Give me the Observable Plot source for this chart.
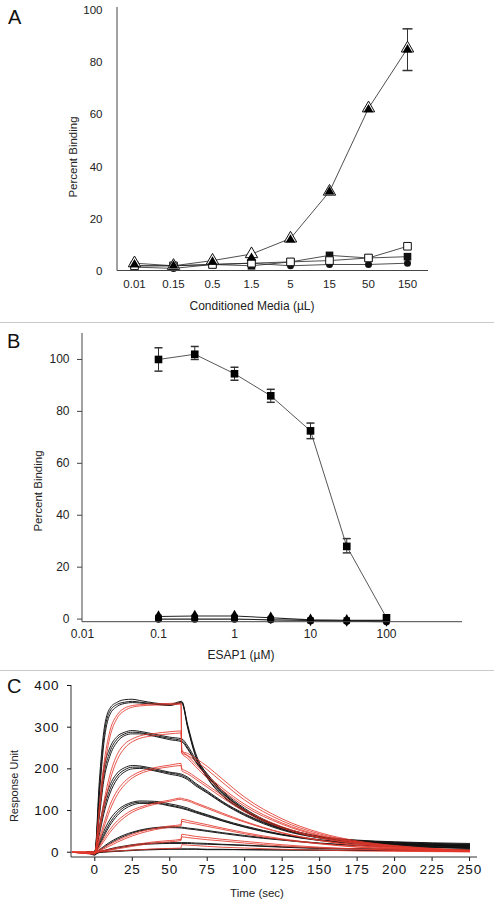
<!DOCTYPE html>
<html>
<head>
<meta charset="utf-8">
<script src="https://cdn.jsdelivr.net/npm/d3@7"></script>
<script src="https://cdn.jsdelivr.net/npm/@observablehq/plot@0.6"></script>
<style>
  body { margin: 0; background: #fff; }
  #root { position: relative; width: 494px; height: 907px; background: #fff; overflow: hidden;
          font-family: "Liberation Sans", Arial, Helvetica, sans-serif; color: #222; }
  .panel { position: absolute; left: 0; }
  .lbl { position: absolute; white-space: nowrap; transform: translate(-50%, -50%); }
  .rot { transform: translate(-50%, -50%) rotate(-90deg); }
  .letter { position: absolute; font-size: 20px; line-height: 1; color: #111; }
  .sep { position: absolute; left: 0; width: 494px; height: 1.5px; background: #c9c9c9; z-index: 3; }
</style>
</head>
<body>
<div id="root">
  <div class="panel" id="pA" style="top:0"></div>
  <div class="panel" id="pB" style="top:325px"></div>
  <div class="panel" id="pC" style="top:670px"></div>
  <div class="sep" style="top:321.5px"></div>
  <div class="sep" style="top:669.5px"></div>
  <div class="letter" style="left:8px;top:7px">A</div>
  <div class="letter" style="left:7px;top:331px">B</div>
  <div class="letter" style="left:7px;top:676px">C</div>
  <div class="lbl" style="left:252px;top:306px;font-size:12px">Conditioned Media (µL)</div>
  <div class="lbl rot" style="left:72.5px;top:157px;font-size:11.5px">Percent Binding</div>
  <div class="lbl" style="left:241px;top:655px;font-size:12px">ESAP1 (µM)</div>
  <div class="lbl rot" style="left:37.5px;top:491px;font-size:11.5px">Percent Binding</div>
  <div class="lbl" style="left:257px;top:893px;font-size:11.5px">Time (sec)</div>
  <div class="lbl rot" style="left:14px;top:786px;font-size:11px">Response Unit</div>
</div>
<script>
// ---------------- Panel A data ----------------
const concA = ["0.01", "0.15", "0.5", "1.5", "5", "15", "50", "150"];
const triFilledA = [2.5, 2, 3.5, 5, 12, 30.5, 62, 85];
const triOpenA   = [3, 2, 4, 6.5, 12.5, 30.5, 62.5, 85.5];
const sqOpenA    = [2, 2, 2.5, 3, 3.5, 4, 5, 9.5];
const sqFilledA  = [2, 2, 2.5, 2, 3.5, 6, 5, 5.5];
const circleA    = [1.5, 1, 2.5, 3, 2, 2.5, 2.5, 3];
const errCatA = ["150"];
const errLoA = [77];
const errHiA = [93];
const yTicksA = [0, 20, 40, 60, 80, 100];

// ---------------- Panel B data ----------------
const concB = [0.1, 0.3, 1, 3, 10, 30, 100];
const sqB    = [100, 102, 94.5, 86, 72.5, 28, 0.5];
const errLoB = [95.5, 100, 92, 83.5, 69.5, 25.5, 0.5];
const errHiB = [104.5, 105, 97, 88.5, 75.5, 31, 0.5];
const nearB1 = [1, 1.2, 1.2, 0.5, -0.3, -0.5, -0.5];
const nearB2 = [0, 0, 0, -0.3, -0.5, -0.8, -1];
const nearB3 = [0.5, 0.5, 0.5, 0, -0.5, -0.5, 0];
const xTicksB = [0.01, 0.1, 0.3, 1, 3, 10, 30, 100];
const yTicksB = [0, 20, 40, 60, 80, 100];

// ---------------- Panel C data (sensorgrams) ----------------
const timeBlack = [-5, 0, 3, 6, 10, 15, 20, 25, 30, 40, 50, 58, 62, 67, 75, 85, 100, 125, 150, 175, 200, 250];
const timeRed = [-15, 0, 3, 6, 10, 15, 20, 25, 30, 40, 50, 57.5, 58, 62, 67, 75, 85, 100, 125, 150, 175, 200, 250];

const black6a = [0, 0, 170, 290, 345, 360, 366, 367, 364, 358, 355, 362, 305, 240, 185, 142, 102, 60, 38, 29, 25, 21];
const black6b = [0, -3, 150, 275, 338, 355, 360, 362, 360, 356, 353, 360, 300, 235, 180, 138, 100, 58, 37, 28, 24, 19];
const black6c = [0, 2, 135, 260, 330, 350, 357, 359, 358, 355, 352, 358, 298, 232, 178, 136, 98, 57, 36, 27, 23, 18];
const black5a = [0, 0, 110, 200, 250, 278, 288, 292, 290, 283, 276, 272, 255, 225, 188, 148, 105, 60, 37, 27, 22, 17];
const black5b = [0, -4, 95, 185, 240, 272, 284, 288, 287, 280, 273, 268, 250, 220, 184, 145, 102, 58, 36, 26, 21, 16];
const black5c = [0, 2, 85, 172, 230, 265, 280, 284, 284, 278, 270, 265, 247, 218, 182, 143, 100, 57, 35, 25, 20, 15];
const black4a = [0, 0, 60, 115, 160, 190, 203, 208, 207, 200, 192, 187, 180, 166, 147, 122, 92, 56, 36, 26, 21, 15];
const black4b = [0, -5, 50, 102, 150, 183, 198, 204, 204, 197, 190, 184, 177, 163, 144, 120, 90, 55, 35, 25, 20, 14];
const black4c = [0, 2, 42, 92, 140, 176, 193, 200, 201, 195, 187, 181, 174, 160, 142, 118, 88, 53, 34, 24, 19, 13];
const black3a = [0, -2, 25, 50, 78, 100, 113, 120, 123, 122, 116, 110, 106, 99, 90, 78, 63, 43, 30, 22, 18, 12];
const black3b = [0, -6, 20, 43, 70, 94, 109, 117, 120, 119, 113, 107, 103, 97, 88, 76, 61, 42, 29, 21, 17, 11];
const black3c = [0, 1, 16, 38, 64, 88, 104, 113, 117, 117, 111, 105, 101, 95, 86, 75, 60, 41, 28, 20, 16, 10];
const black2a = [0, -3, 6, 14, 24, 34, 42, 48, 53, 59, 61, 60, 58, 56, 52, 47, 40, 30, 22, 17, 14, 10];
const black2b = [0, -7, 4, 11, 21, 31, 39, 46, 51, 57, 59, 58, 56, 54, 50, 45, 38, 29, 21, 16, 13, 9];
const black1a = [0, -2, 2, 4, 8, 12, 15, 18, 20, 22, 23, 23, 23, 22, 21, 19, 17, 13, 10, 8, 7, 6];
const black1b = [0, -5, 0, 3, 6, 10, 13, 16, 18, 20, 21, 21, 21, 20, 19, 18, 16, 12, 9, 8, 7, 5];
const black0a = [0, -1, 0, 1, 2, 3, 4, 5, 6, 7, 8, 8, 8, 8, 7, 7, 6, 6, 5, 5, 4, 4];
const black0b = [0, -3, -1, 0, 1, 2, 3, 4, 5, 6, 7, 7, 7, 7, 6, 6, 6, 5, 5, 4, 4, 3];

const red6a = [0, 0, 110, 210, 290, 330, 346, 352, 354, 356, 357, 358, 242, 237, 226, 206, 176, 132, 80, 47, 27, 16, 5];
const red6b = [0, -4, 95, 190, 275, 322, 340, 348, 351, 353, 354, 355, 238, 232, 220, 198, 168, 125, 75, 44, 25, 15, 4];
const red5a = [0, 0, 60, 120, 185, 235, 260, 272, 279, 285, 289, 291, 245, 231, 212, 184, 154, 115, 70, 41, 24, 14, 4];
const red5b = [0, -4, 50, 105, 170, 222, 250, 265, 273, 280, 284, 286, 238, 225, 206, 178, 149, 110, 67, 39, 23, 13, 3];
const red4a = [0, 0, 32, 68, 112, 148, 170, 184, 193, 203, 209, 213, 201, 193, 181, 161, 136, 101, 61, 36, 21, 12, 4];
const red4b = [0, -4, 26, 58, 100, 138, 162, 178, 188, 199, 205, 208, 196, 188, 176, 156, 131, 97, 58, 34, 20, 11, 3];
const red3a = [0, 0, 14, 32, 54, 75, 90, 101, 108, 118, 125, 130, 129, 126, 119, 108, 94, 74, 47, 29, 17, 10, 3];
const red3b = [0, -3, 10, 26, 47, 68, 84, 96, 104, 115, 122, 127, 126, 123, 116, 105, 91, 72, 46, 28, 16, 9, 2];
const red2a = [0, 0, 5, 11, 19, 28, 36, 43, 49, 57, 63, 66, 79, 76, 72, 66, 58, 47, 32, 21, 13, 8, 3];
const red2b = [0, -3, 3, 8, 15, 24, 32, 39, 45, 54, 60, 63, 74, 71, 68, 62, 55, 44, 30, 20, 12, 7, 2];
const red1a = [0, 0, 2, 4, 7, 11, 14, 17, 20, 25, 28, 31, 43, 41, 38, 35, 31, 26, 18, 12, 8, 5, 2];
const red1b = [0, -2, 1, 3, 5, 8, 11, 14, 17, 22, 25, 28, 37, 35, 33, 30, 27, 22, 15, 10, 7, 4, 1];
const red0a = [0, 0, 1, 1, 2, 3, 4, 5, 6, 8, 9, 10, 18, 17, 16, 14, 12, 10, 7, 5, 3, 2, 1];

const xTicksC = [0, 25, 50, 75, 100, 125, 150, 175, 200, 225, 250];
const yTicksC = [0, 100, 200, 300, 400];

// ---------------- helpers ----------------
const FONT = '"Liberation Sans", Arial, Helvetica, sans-serif';
const capSymbol = {
  draw(ctx, size) {
    const w = Math.sqrt(size / Math.PI);
    ctx.moveTo(-w, 0);
    ctx.lineTo(w, 0);
  }
};

function drawFrameLines(svg, m, color) {
  const s = d3.select(svg);
  const left = m.marginLeft, right = m.width - m.marginRight;
  const top = m.marginTop, bottom = m.height - m.marginBottom;
  s.append("line").attr("x1", left).attr("x2", left).attr("y1", top).attr("y2", bottom)
    .attr("stroke", color).attr("stroke-width", 1);
  s.append("line").attr("x1", left).attr("x2", right).attr("y1", bottom).attr("y2", bottom)
    .attr("stroke", color).attr("stroke-width", 1);
}

// ---------------- Panel A ----------------
function seriesA(name, ys) { return concA.map((c, i) => ({c, y: ys[i], s: name})); }
const linesA = [
  ...seriesA("triOpen", triOpenA), ...seriesA("sqOpen", sqOpenA),
  ...seriesA("sqFilled", sqFilledA), ...seriesA("circle", circleA)
];
const errA = errCatA.map((c, i) => ({c, lo: errLoA[i], hi: errHiA[i]}));
const mA = {width: 494, height: 322, marginLeft: 117, marginRight: 66, marginTop: 7, marginBottom: 51.5};
const plotA = Plot.plot({
  ...mA,
  style: {fontFamily: FONT, fontSize: "11px", background: "transparent", color: "#222", overflow: "visible"},
  x: {type: "point", domain: concA, range: [133.5, 408], padding: 0, label: null},
  y: {domain: [0, 101.2], label: null},
  marks: [
    Plot.axisX({tickSize: 0, tickPadding: 9, fontSize: 11.5}),
    Plot.axisY({ticks: yTicksA, tickSize: 0, tickPadding: 15, fontSize: 11.5}),
    Plot.ruleX(errA, {x: "c", y1: "lo", y2: "hi", stroke: "#333", strokeWidth: 1}),
    Plot.dot(errA, {x: "c", y: "lo", symbol: capSymbol, r: 5, stroke: "#333", fill: "none"}),
    Plot.dot(errA, {x: "c", y: "hi", symbol: capSymbol, r: 5, stroke: "#333", fill: "none"}),
    Plot.line(linesA, {x: "c", y: "y", z: "s", stroke: "#222", strokeWidth: 0.8}),
    Plot.dot(seriesA("circle", circleA), {x: "c", y: "y", symbol: "circle", r: 3.5, fill: "#111"}),
    Plot.dot(seriesA("sqFilled", sqFilledA), {x: "c", y: "y", symbol: "square", r: 4.3, fill: "#111"}),
    Plot.dot(seriesA("sqOpen", sqOpenA), {x: "c", y: "y", symbol: "square", r: 4.3, fill: "#fff", stroke: "#111", strokeWidth: 1}),
    Plot.dot(seriesA("triOpen", triOpenA), {x: "c", y: "y", symbol: "triangle", r: 4.6, fill: "#fff", stroke: "#111", strokeWidth: 1}),
    Plot.dot(seriesA("triFilled", triFilledA), {x: "c", y: "y", symbol: "triangle", r: 3.6, fill: "#000"})
  ]
});
drawFrameLines(plotA, mA, "#444");
document.getElementById("pA").appendChild(plotA);

// ---------------- Panel B ----------------
function seriesB(name, ys) { return concB.map((x, i) => ({x, y: ys[i], s: name})); }
const errB = concB.map((x, i) => ({x, lo: errLoB[i], hi: errHiB[i]})).filter(d => d.hi > d.lo);
const mB = {width: 494, height: 345, marginLeft: 82, marginRight: 32, marginTop: 8, marginBottom: 48.3};
const plotB = Plot.plot({
  ...mB,
  style: {fontFamily: FONT, fontSize: "11.5px", background: "transparent", color: "#222", overflow: "visible"},
  x: {type: "log", domain: [0.01, 1000], label: null},
  y: {domain: [-1.2, 110], label: null},
  marks: [
    Plot.axisX({ticks: xTicksB, tickFormat: d => d3.format("~g")(d), tickSize: 0, tickPadding: 7, fontSize: 12}),
    Plot.axisY({ticks: yTicksB, tickSize: 5, tickPadding: 8, fontSize: 12, stroke: "#444"}),
    Plot.ruleX(errB, {x: "x", y1: "lo", y2: "hi", stroke: "#333", strokeWidth: 1}),
    Plot.dot(errB, {x: "x", y: "lo", symbol: capSymbol, r: 4, stroke: "#333", fill: "none"}),
    Plot.dot(errB, {x: "x", y: "hi", symbol: capSymbol, r: 4, stroke: "#333", fill: "none"}),
    Plot.line(seriesB("main", sqB), {x: "x", y: "y", stroke: "#444", strokeWidth: 0.9}),
    Plot.line(seriesB("n1", nearB1), {x: "x", y: "y", stroke: "#222", strokeWidth: 1.1}),
    Plot.line(seriesB("n2", nearB2), {x: "x", y: "y", stroke: "#222", strokeWidth: 1.1}),
    Plot.dot(seriesB("n3", nearB3), {x: "x", y: "y", symbol: "square", r: 3.6, fill: "#000"}),
    Plot.dot(seriesB("n2", nearB2), {x: "x", y: "y", symbol: "circle", r: 3.6, fill: "#000"}),
    Plot.dot(seriesB("n1", nearB1), {x: "x", y: "y", symbol: "diamond", r: 3.8, fill: "#000"}),
    Plot.dot(seriesB("main", sqB), {x: "x", y: "y", symbol: "square", r: 4.3, fill: "#000"})
  ]
});
drawFrameLines(plotB, mB, "#444");
document.getElementById("pB").appendChild(plotB);

// ---------------- Panel C ----------------
const blackCurves = {black6a, black6b, black6c, black5a, black5b, black5c, black4a, black4b, black4c,
  black3a, black3b, black3c, black2a, black2b, black1a, black1b, black0a, black0b};
const redCurves = {red6a, red6b, red5a, red5b, red4a, red4b, red3a, red3b, red2a, red2b, red1a, red1b, red0a};
const rowsBlack = Object.entries(blackCurves).flatMap(([id, vs]) => timeBlack.map((t, i) => ({t, v: vs[i], id})));
const rowsRed = Object.entries(redCurves).flatMap(([id, vs]) => timeRed.map((t, i) => ({t, v: vs[i], id})));
const mC = {width: 494, height: 237, marginLeft: 71, marginRight: 17, marginTop: 15, marginBottom: 50};
const plotC = Plot.plot({
  ...mC,
  style: {fontFamily: FONT, fontSize: "13px", background: "transparent", color: "#111", overflow: "visible", letterSpacing: "0.9px"},
  x: {domain: [-15.55, 255.3], label: null},
  y: {domain: [-12.7, 400], label: null},
  marks: [
    Plot.axisX({ticks: xTicksC, tickSize: 4, tickPadding: 3, fontSize: 13.5}),
    Plot.axisY({ticks: yTicksC, tickSize: 4, tickPadding: 8, fontSize: 13.5}),
    Plot.line(rowsBlack, {x: "t", y: "v", z: "id", stroke: "#111", strokeWidth: 0.95, curve: "monotone-x"}),
    Plot.line(rowsRed, {x: "t", y: "v", z: "id", stroke: "#e2372c", strokeWidth: 0.9, strokeOpacity: 0.95, curve: "monotone-x"})
  ]
});
drawFrameLines(plotC, mC, "#333");
document.getElementById("pC").appendChild(plotC);
</script>
</body>
</html>
